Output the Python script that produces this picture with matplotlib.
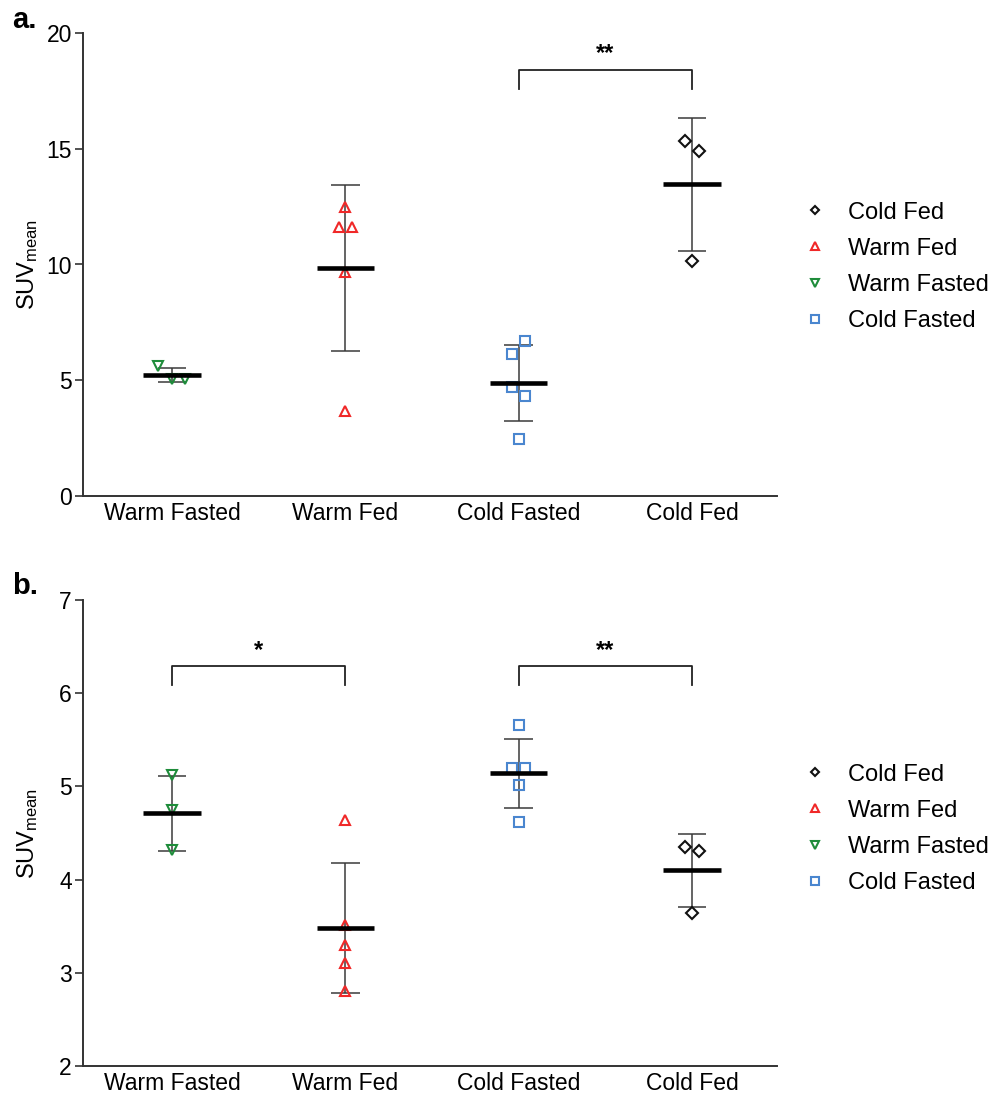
import matplotlib
matplotlib.use("Agg")
import matplotlib.pyplot as plt
from matplotlib.lines import Line2D
import numpy as np

plt.rcParams['font.family'] = ['Liberation Sans', 'DejaVu Sans']
plt.rcParams['mathtext.fontset'] = 'custom'
plt.rcParams['mathtext.rm'] = 'Liberation Sans'
plt.rcParams['mathtext.it'] = 'Liberation Sans:italic'

# ---------------- data ----------------
categories = ["Warm Fasted", "Warm Fed", "Cold Fasted", "Cold Fed"]

# panel a : individual values (input order kept for swarm ordering)
a_warm_fasted = [5.62, 5.07, 5.05]
a_warm_fed = [12.50, 11.63, 11.63, 9.66, 3.67]
a_cold_fasted = [6.15, 6.70, 4.69, 4.33, 2.48]
a_cold_fed = [15.35, 14.89, 10.17]
a_means = [5.24, 9.86, 4.87, 13.46]
a_sd = [0.30, 3.59, 1.65, 2.86]

# panel b
b_warm_fasted = [5.12, 4.75, 4.32]
b_warm_fed = [4.64, 3.51, 3.30, 3.11, 2.80]
b_cold_fasted = [5.655, 5.20, 5.20, 5.02, 4.62]
b_cold_fed = [4.35, 4.31, 3.64]
b_means = [4.71, 3.48, 5.14, 4.10]
b_sd = [0.40, 0.70, 0.37, 0.39]

# significance brackets: (left category, right category, label)
a_sig = [(2, 3, "**")]
b_sig = [(0, 1, "*"), (2, 3, "**")]

# ---------------- styles ----------------
styles = {
    "Warm Fasted": dict(marker="v", color="#1e8c3a", ms=7.5),
    "Warm Fed": dict(marker="^", color="#f02828", ms=7.5),
    "Cold Fasted": dict(marker="s", color="#4a86cf", ms=7),
    "Cold Fed": dict(marker="D", color="#111111", ms=6),
}
legend_order = ["Cold Fed", "Warm Fed", "Warm Fasted", "Cold Fasted"]

W, H = 994, 1093
fig = plt.figure(figsize=(W / 100, H / 100), dpi=100)


def swarm_offsets(vals, px_per_unit, thresh_px=15.0, step=0.078):
    vals = np.asarray(vals, float)
    order = np.argsort(-vals, kind="stable")
    clusters = []
    cur = [order[0]]
    for i in order[1:]:
        if abs(vals[cur[-1]] - vals[i]) * px_per_unit < thresh_px:
            cur.append(i)
        else:
            clusters.append(cur)
            cur = [i]
    clusters.append(cur)
    offs = np.zeros(len(vals))
    for c in clusters:
        c = sorted(c)  # input order
        n = len(c)
        for k, idx in enumerate(c):
            offs[idx] = (k - (n - 1) / 2) * step
    return offs


def draw_panel(rect, groups, means, sds, ylim, yticks, sig, bracket, label, leg_y):
    ax = fig.add_axes(rect)
    ax.set_xlim(-0.513, 3.49)
    ax.set_ylim(*ylim)
    ax_h_px = rect[3] * H
    px_per_unit = ax_h_px / (ylim[1] - ylim[0])
    for i, (cat, vals) in enumerate(zip(categories, groups)):
        st = styles[cat]
        offs = swarm_offsets(vals, px_per_unit)
        ax.plot(i + offs, vals, linestyle="none", marker=st["marker"],
                ms=st["ms"], mfc="none", mec=st["color"], mew=1.5, zorder=3)
        m, s = means[i], sds[i]
        ax.vlines(i, m - s, m + s, color="#3a3a3a", lw=1.1, zorder=2)
        ax.hlines([m - s, m + s], i - 0.083, i + 0.083, color="#3a3a3a", lw=1.1, zorder=2)
        ax.hlines(m, i - 0.165, i + 0.165, color="black", lw=3.3, zorder=4)
    ax.set_xticks(range(len(categories)))
    ax.set_xticklabels(categories, fontsize=16.5)
    ax.tick_params(axis="x", length=0, pad=4)
    ax.set_yticks(yticks)
    ax.tick_params(axis="y", length=6, width=1.2, color="#333333", labelsize=16.5, pad=2)
    for sp in ["top", "right"]:
        ax.spines[sp].set_visible(False)
    for sp in ["left", "bottom"]:
        ax.spines[sp].set_linewidth(1.4)
        ax.spines[sp].set_color("#333333")
    ax.set_ylabel(r"SUV$_{\rm mean}$", fontsize=17)
    ax.yaxis.set_label_coords(-0.062, 0.5)
    ytop, ybot, ytxt = bracket
    for l, r, txt in sig:
        ax.plot([l, l, r, r], [ybot, ytop, ytop, ybot], color="#222222", lw=1.3,
                clip_on=False)
        ax.text((l + r) / 2, ytxt, txt, ha="center", va="center", fontsize=17,
                fontweight="bold")
    handles = [Line2D([], [], linestyle="none", marker=styles[c]["marker"],
                      ms=styles[c]["ms"] - 1.5, mfc="none", mec=styles[c]["color"],
                      mew=1.5) for c in legend_order]
    ax.legend(handles, legend_order, loc="center left", bbox_to_anchor=(1.0, leg_y),
              frameon=False, fontsize=17, handlelength=1.0, handletextpad=0.9,
              labelspacing=0.6, borderaxespad=0.7, borderpad=0.4)
    fig.text(12 / W, 1 - label[1] / H, label[0], fontsize=21, fontweight="bold",
             ha="left", va="center")
    return ax


left = 83 / W
width = (777 - 83) / W
draw_panel([left, 1 - 496 / H, width, (496 - 33) / H],
           [a_warm_fasted, a_warm_fed, a_cold_fasted, a_cold_fed],
           a_means, a_sd, (0, 20), [0, 5, 10, 15, 20], a_sig,
           (18.4, 17.6, 19.1), ("a.", 20), 0.495)
draw_panel([left, 1 - 1066 / H, width, (1066 - 600) / H],
           [b_warm_fasted, b_warm_fed, b_cold_fasted, b_cold_fed],
           b_means, b_sd, (2, 7), [2, 3, 4, 5, 6, 7], b_sig,
           (6.295, 6.09, 6.46), ("b.", 586), 0.509)

fig.savefig("out.png", dpi=100)
